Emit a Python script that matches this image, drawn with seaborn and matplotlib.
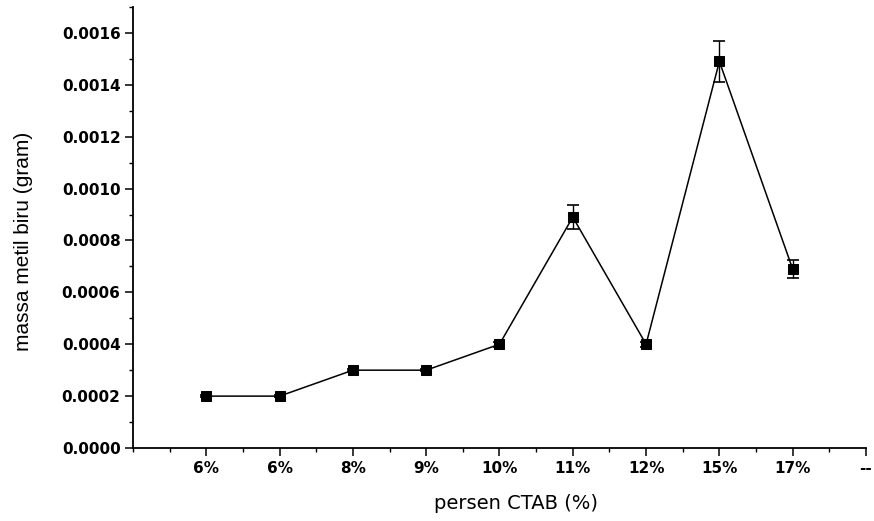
import numpy as np
import pandas as pd
import matplotlib
matplotlib.use("Agg")
import matplotlib.pyplot as plt
import seaborn as sns
from matplotlib.ticker import MultipleLocator, FormatStrFormatter

# data
categories = ['6%', '6%', '8%', '9%', '10%', '11%', '12%', '15%', '17%']
massa = [0.0002, 0.0002, 0.0003, 0.0003, 0.0004, 0.00089, 0.0004, 0.00149, 0.00069]
err = [0.000003, 0.000003, 0.000004, 0.000004, 0.00001, 0.000045, 0.00001, 0.00008, 0.000035]
tick_labels = categories + ['--']

df = pd.DataFrame({
    'pos': np.arange(1, len(categories) + 1),
    'massa': massa,
    'err': err,
})

sns.set_theme(style='ticks')
plt.rcParams['font.family'] = ['DejaVu Sans']

fig = plt.figure(figsize=(8.74, 5.21), dpi=100)
ax = fig.add_axes([0.1522, 0.1401, 0.8386, 0.8465])

ax.errorbar(df['pos'], df['massa'], yerr=df['err'], fmt='none',
            ecolor='black', elinewidth=1.0, capsize=4, capthick=1.2, zorder=2)
sns.lineplot(data=df, x='pos', y='massa', color='black', linewidth=1.1,
             marker='s', markersize=7, markeredgecolor='black', ax=ax, zorder=3)

ax.set_xlim(0, 10)
ax.set_ylim(0, 0.0017)
ax.set_xticks(np.arange(1, len(tick_labels) + 1))
ax.set_xticklabels(tick_labels)
ax.xaxis.set_minor_locator(MultipleLocator(0.5))
ax.yaxis.set_major_locator(MultipleLocator(0.0002))
ax.yaxis.set_minor_locator(MultipleLocator(0.0001))
ax.yaxis.set_major_formatter(FormatStrFormatter('%.4f'))

for lab in ax.get_xticklabels() + ax.get_yticklabels():
    lab.set_fontweight('bold')
    lab.set_fontsize(11)

ax.tick_params(axis='both', which='major', direction='out', length=6, width=1.1,
               color='black', labelcolor='black')
ax.tick_params(axis='both', which='minor', direction='out', length=3, width=1.0,
               color='black')
ax.tick_params(axis='x', which='major', pad=3)
ax.tick_params(axis='y', which='major', pad=3)

sns.despine(ax=ax)
for side in ['left', 'bottom']:
    ax.spines[side].set_linewidth(1.3)
    ax.spines[side].set_color('black')

ax.set_xlabel('persen CTAB (%)', fontsize=14, color='black')
ax.set_ylabel('massa metil biru (gram)', fontsize=15, color='black',
              family=['Liberation Sans', 'DejaVu Sans'])
ax.xaxis.set_label_coords(0.522, -0.104)
ax.yaxis.set_label_coords(-0.137, 0.469)

fig.savefig('out.png', dpi=100)
